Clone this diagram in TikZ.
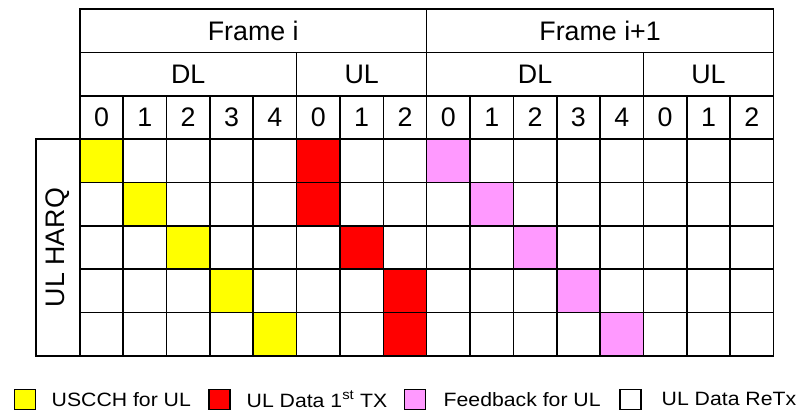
\documentclass[tikz,border=0pt]{standalone}
\usepackage{fontspec}
\setmainfont{Liberation Sans}
\newfontfamily\legfont[FakeStretch=1.1]{Liberation Sans}
\definecolor{cyel}{RGB}{255,255,0}
\definecolor{cred}{RGB}{255,0,0}
\definecolor{cpink}{RGB}{255,153,255}
\tikzset{
  cell/.style={draw=black, line width=1.6pt, inner sep=0pt, anchor=north west,
    minimum width=43.36pt, minimum height=43.36pt,
    font=\fontsize{26.8}{30}\selectfont},
  hdr/.style={cell},
  legbox/.style={draw=black, line width=1.6pt, inner sep=0pt, minimum width=21pt, minimum height=20pt},
  legtxt/.style={anchor=west, inner sep=0pt, font=\legfont\fontsize{19.3}{22}\selectfont},
}
\begin{document}
\begin{tikzpicture}[x=1pt,y=-1pt]
\useasboundingbox (0,0) rectangle (798,412);
\fill[white] (0,0) rectangle (798,412);
\def\cw{43.36}
\def\gx{79}
\def\gy{8.3}
% frame row
\node[hdr, minimum width=8*\cw pt] (fi) at (\gx,\gy) {Frame i};
\node[hdr, minimum width=8*\cw pt] (fi1) at (\gx+8*\cw,\gy) {Frame i+1};
% DL/UL row
\node[hdr, minimum width=5*\cw pt] (dl1) at (\gx,\gy+\cw) {DL};
\node[hdr, minimum width=3*\cw pt] (ul1) at (\gx+5*\cw,\gy+\cw) {UL};
\node[hdr, minimum width=5*\cw pt] (dl2) at (\gx+8*\cw,\gy+\cw) {DL};
\node[hdr, minimum width=3*\cw pt] (ul2) at (\gx+13*\cw,\gy+\cw) {UL};
% subframe numbers
\foreach \i/\t in {0/0,1/1,2/2,3/3,4/4,5/0,6/1,7/2,8/0,9/1,10/2,11/3,12/4,13/0,14/1,15/2}{
  \node[cell] (n\i) at (\gx+\i*\cw,\gy+2*\cw) {\t};
}
% grid
\foreach \r in {0,...,4}{
  \foreach \c in {0,...,15}{
    \node[cell] (c\r-\c) at (\gx+\c*\cw,\gy+3*\cw+\r*\cw) {};
  }
}
% coloured cells
\foreach \r/\c in {0/0,1/1,2/2,3/3,4/4}{
  \node[cell, fill=cyel] (y\r) at (\gx+\c*\cw,\gy+3*\cw+\r*\cw) {};
}
\foreach \r/\c in {0/5,1/5,2/6,3/7,4/7}{
  \node[cell, fill=cred] (rd\r) at (\gx+\c*\cw,\gy+3*\cw+\r*\cw) {};
}
\foreach \r/\c in {0/8,1/9,2/10,3/11,4/12}{
  \node[cell, fill=cpink] (pk\r) at (\gx+\c*\cw,\gy+3*\cw+\r*\cw) {};
}
% side label
\node[cell, minimum width=43.7pt, minimum height=5*\cw pt] (harq) at (35.3,\gy+3*\cw) {};
\node[rotate=90, font=\fontsize{26.8}{30}\selectfont, inner sep=0pt] (harqt) at (harq.center) {UL HARQ};
% legend
\node[legbox, fill=cyel] (l1) at (25,399.3) {};
\node[legtxt] (t1) at (51.5,399.3) {USCCH for UL};
\node[legbox, fill=cred] (l2) at (219.5,399.3) {};
\node[legtxt] (t2) at (246.5,399.3) {UL Data 1\textsuperscript{st} TX};
\node[legbox, fill=cpink] (l3) at (415,399.3) {};
\node[legtxt] (t3) at (443.5,399.3) {Feedback for UL};
\node[legbox, fill=white] (l4) at (630.5,399.3) {};
\node[legtxt] (t4) at (661.5,399.3) {UL Data ReTx};
\end{tikzpicture}
\end{document}
